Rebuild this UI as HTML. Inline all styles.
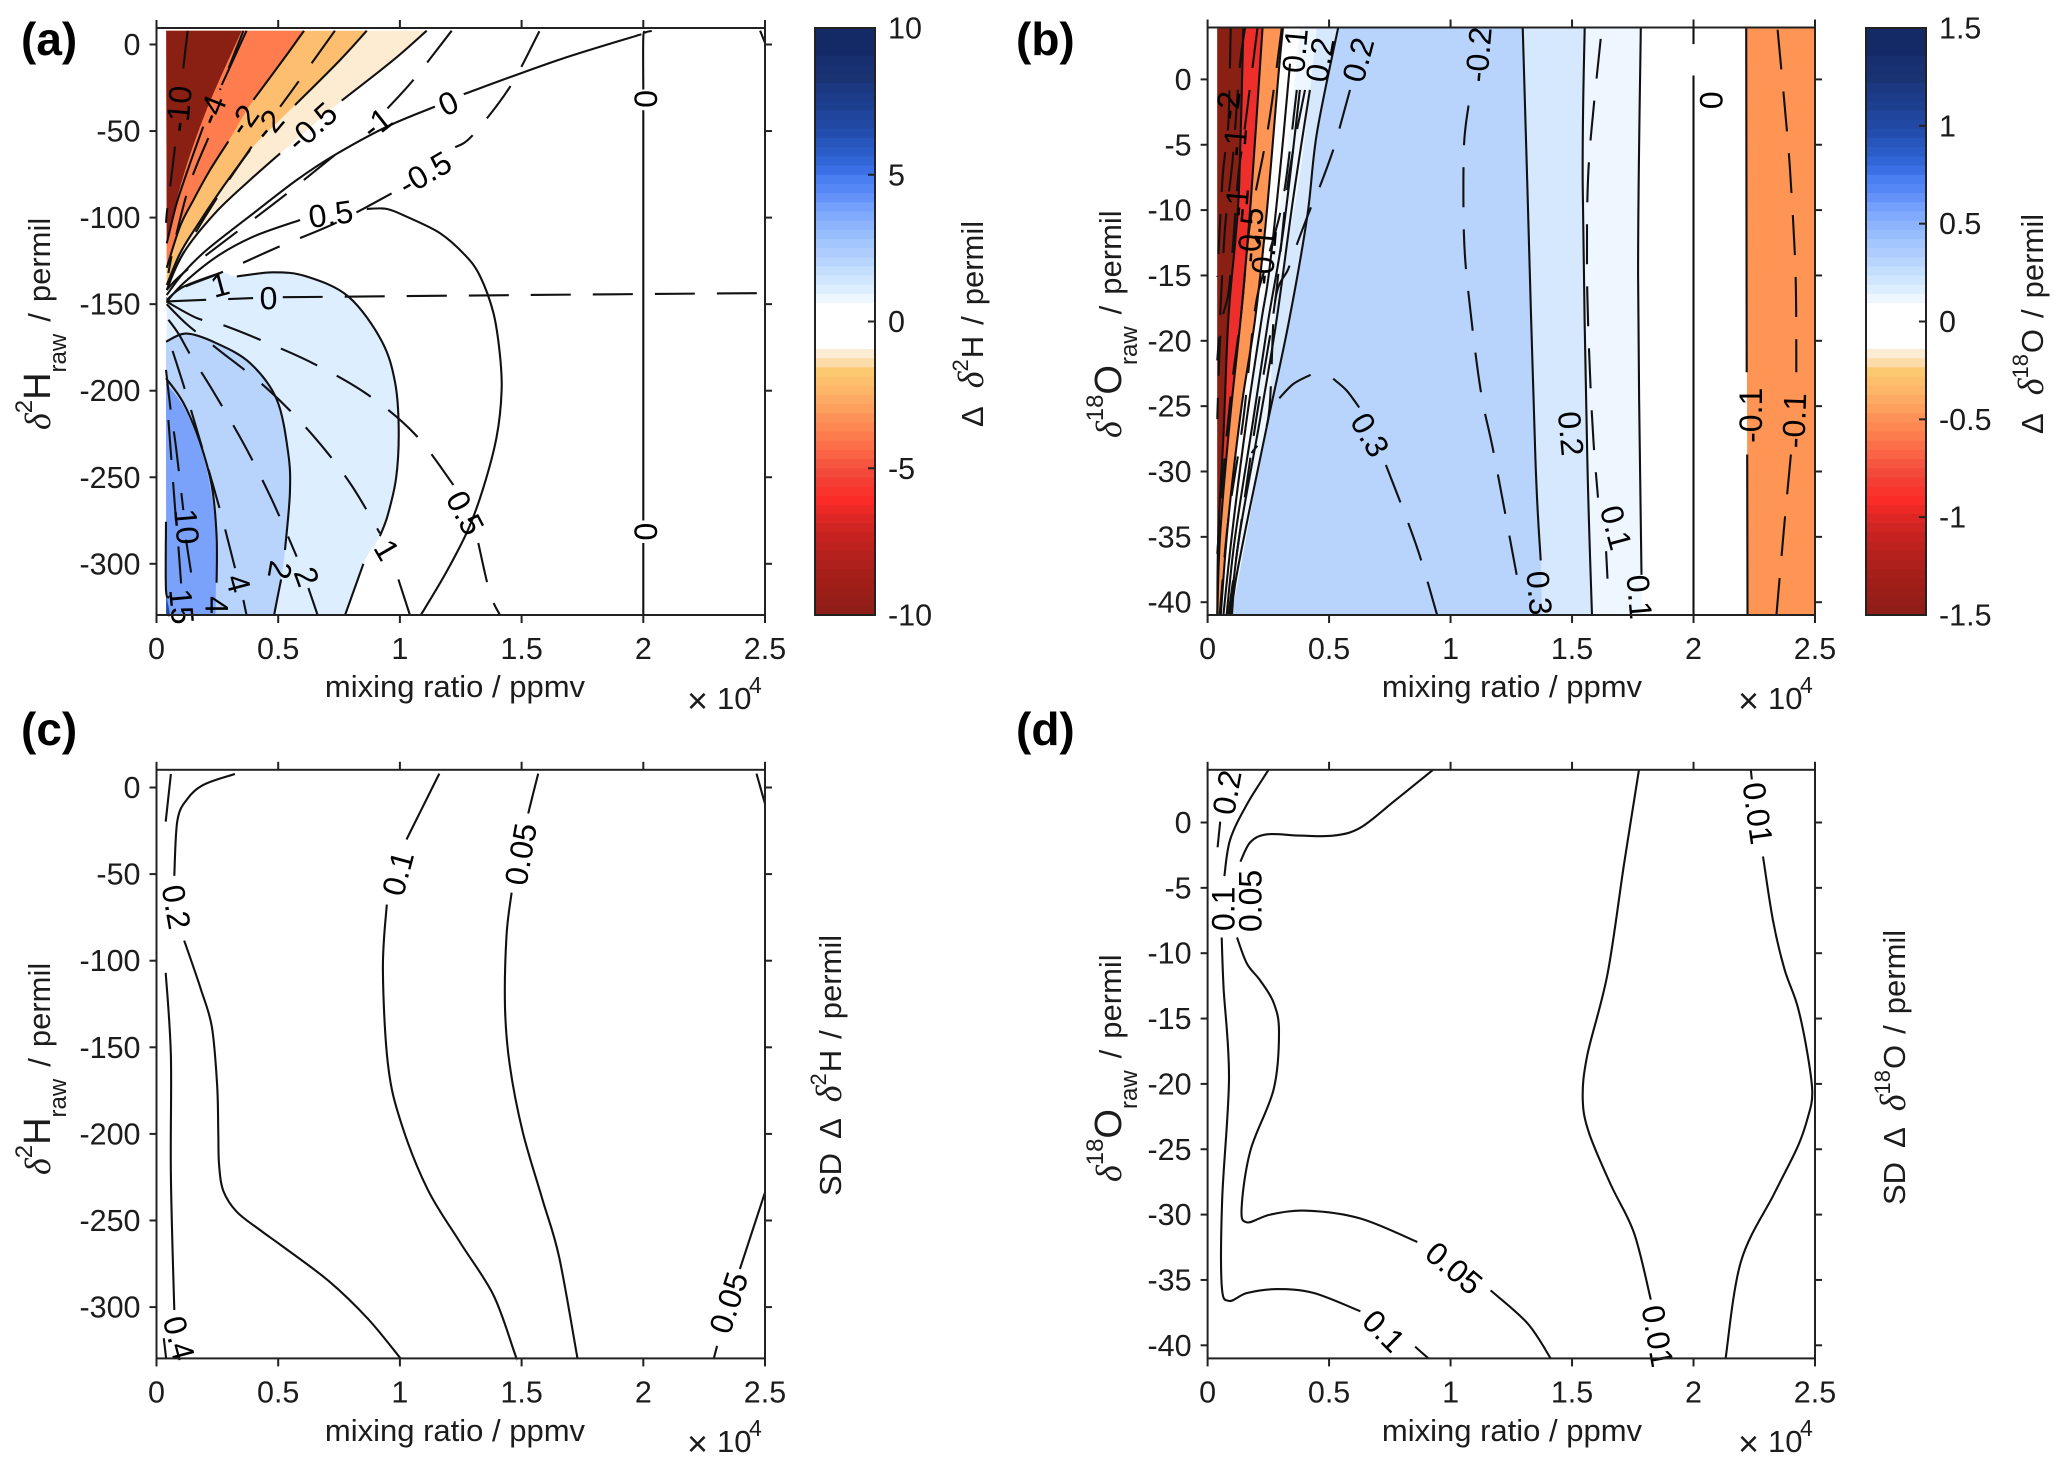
<!DOCTYPE html>
<html lang="en">
<head>
<meta charset="utf-8">
<title>Humidity-isotope contour panels</title>
<style>
html,body{margin:0;padding:0;background:#fff;}
svg{display:block;}
text{font-family:"Liberation Sans",sans-serif;fill:#1c1c1c;font-size:30.5px;}
.panel-letter{font-weight:bold;font-size:46px;fill:#000;}
.title{font-size:31px;}
.sym{font-family:"Liberation Serif",serif;font-style:italic;font-size:36px;}
.contour-text{font-size:32px;fill:#000;}
</style>
</head>
<body>
<svg id="figure" xmlns="http://www.w3.org/2000/svg" width="2067" height="1471" viewBox="0 0 2067 1471">
  <rect x="0" y="0" width="2067" height="1471" fill="#fff"/>
  <g id="panel-a"></g>
  <g id="panel-b"></g>
  <g id="panel-c"></g>
  <g id="panel-d"></g>
  <g id="colorbar-a"></g>
  <g id="colorbar-b"></g>

  <text class="panel-letter" x="21" y="55">(a)</text>
  <text class="panel-letter" x="1016" y="55">(b)</text>
  <text class="panel-letter" x="21" y="745">(c)</text>
  <text class="panel-letter" x="1016" y="745">(d)</text>

  <text class="title" x="455" y="697" text-anchor="middle">mixing ratio / ppmv</text>
  <text class="title" x="1512" y="697" text-anchor="middle">mixing ratio / ppmv</text>
  <text class="title" x="455" y="1441" text-anchor="middle">mixing ratio / ppmv</text>
  <text class="title" x="1512" y="1441" text-anchor="middle">mixing ratio / ppmv</text>

  <text x="687" y="713" font-size="36"><tspan font-size="36">×</tspan><tspan x="717" dy="-4" font-size="31">10</tspan><tspan x="749" dy="-16" font-size="23">4</tspan></text>
  <text x="1738" y="713"><tspan font-size="36">×</tspan><tspan x="1768" dy="-4" font-size="31">10</tspan><tspan x="1800" dy="-16" font-size="23">4</tspan></text>
  <text x="687" y="1456"><tspan font-size="36">×</tspan><tspan x="717" dy="-4" font-size="31">10</tspan><tspan x="749" dy="-16" font-size="23">4</tspan></text>
  <text x="1738" y="1456"><tspan font-size="36">×</tspan><tspan x="1768" dy="-4" font-size="31">10</tspan><tspan x="1800" dy="-16" font-size="23">4</tspan></text>

  <text class="title" transform="translate(50,430) rotate(-90)"><tspan class="sym">δ</tspan><tspan dy="-18" font-size="24">2</tspan><tspan dy="18" font-size="38">H</tspan><tspan dy="16" font-size="24">raw</tspan><tspan dy="-16" dx="12">/</tspan><tspan dx="11">permil</tspan></text>
  <text class="title" transform="translate(1121,438) rotate(-90)"><tspan class="sym">δ</tspan><tspan dy="-18" font-size="24">18</tspan><tspan dy="18" font-size="38">O</tspan><tspan dy="16" font-size="24">raw</tspan><tspan dy="-16" dx="12">/</tspan><tspan dx="11">permil</tspan></text>
  <text class="title" transform="translate(50,1175) rotate(-90)"><tspan class="sym">δ</tspan><tspan dy="-18" font-size="24">2</tspan><tspan dy="18" font-size="38">H</tspan><tspan dy="16" font-size="24">raw</tspan><tspan dy="-16" dx="12">/</tspan><tspan dx="11">permil</tspan></text>
  <text class="title" transform="translate(1121,1182) rotate(-90)"><tspan class="sym">δ</tspan><tspan dy="-18" font-size="24">18</tspan><tspan dy="18" font-size="38">O</tspan><tspan dy="16" font-size="24">raw</tspan><tspan dy="-16" dx="12">/</tspan><tspan dx="11">permil</tspan></text>

  <text class="title" transform="translate(983,427) rotate(-90)">Δ<tspan class="sym" dx="18">δ</tspan><tspan dy="-15" font-size="22">2</tspan><tspan dy="15" dx="1">H</tspan><tspan dx="11">/</tspan><tspan dx="11">permil</tspan></text>
  <text class="title" transform="translate(2043,434) rotate(-90)">Δ<tspan class="sym" dx="18">δ</tspan><tspan dy="-15" font-size="22">18</tspan><tspan dy="15" dx="1">O</tspan><tspan dx="11">/</tspan><tspan dx="11">permil</tspan></text>
  <text class="title" transform="translate(841,1196) rotate(-90)">SD<tspan dx="14">Δ</tspan><tspan class="sym" dx="16">δ</tspan><tspan dy="-15" font-size="22">2</tspan><tspan dy="15" dx="1">H</tspan><tspan dx="11">/</tspan><tspan dx="11">permil</tspan></text>
  <text class="title" transform="translate(1905,1205) rotate(-90)">SD<tspan dx="14">Δ</tspan><tspan class="sym" dx="16">δ</tspan><tspan dy="-15" font-size="22">18</tspan><tspan dy="15" dx="1">O</tspan><tspan dx="11">/</tspan><tspan dx="11">permil</tspan></text>
</svg>

<script>
// ---------- shared axis data ----------
const xTicks = [0, 0.5, 1, 1.5, 2, 2.5];
const xTickLabels = ['0', '0.5', '1', '1.5', '2', '2.5'];
const yTicksH = [0, -50, -100, -150, -200, -250, -300];
const yTickLabelsH = ['0', '-50', '-100', '-150', '-200', '-250', '-300'];
const yTicksO = [0, -5, -10, -15, -20, -25, -30, -35, -40];
const yTickLabelsO = ['0', '-5', '-10', '-15', '-20', '-25', '-30', '-35', '-40'];
const cbarTicksA = [10, 5, 0, -5, -10];
const cbarTickLabelsA = ['10', '5', '0', '-5', '-10'];
const cbarTicksB = [1.5, 1, 0.5, 0, -0.5, -1, -1.5];
const cbarTickLabelsB = ['1.5', '1', '0.5', '0', '-0.5', '-1', '-1.5'];
const colorbarColors = ['#132a66','#132a66','#132a66','#172f6e','#183172','#193373','#1b3880','#1c3b88','#1d3f90','#1f459c','#2149a4','#234eb0','#2756bc','#2b5dc8','#3166d6','#3a6fe6','#4a7ff2','#5588f6','#6592f8','#749ffa','#80aafb','#8cb3fc','#98bdfd','#a4c6fe','#aecdfe','#b8d5fe','#c4dffe','#d0e6ff','#dceeff','#eef7ff','#ffffff','#ffffff','#ffffff','#ffffff','#ffffff','#fdecd4','#fddcaa','#fcc870','#fdbf6c','#fdb668','#fdab64','#fda05e','#fd9258','#fd8852','#fd7c4d','#fc7049','#fa6445','#f65640','#f2493a','#f43e33','#f9342c','#fb2b28','#ed2926','#dc2724','#d02522','#c62320','#be221e','#b5211c','#ae201b','#a71f19','#a11e18','#9b1e18','#951e18','#901e18'];

// ---------- panel a: mean bias of d2H (x in 1e4 ppmv, y in permil) ----------
const aDarkRedEdge = [[0.35,8],[0.206,-37.8],[0.11,-76],[0.042,-113]];
const aBlueEdge = [[0.039,-195.7],[0.11,-209],[0.179,-232],[0.22,-255],[0.243,-284],[0.243,-329.6]];
const aDeepBlue = [[0.04,-318],[0.055,-329.6],[0.04,-329.6]];
const aSolidM4a = [[0.37,8],[0.343,-0.3],[0.305,-12],[0.268,-23.4]];
const aSolidM4b = [[0.192,-47.5],[0.138,-68.6],[0.083,-91.7],[0.042,-114.9]];
const aSolidM2a = [[0.606,8],[0.535,-6],[0.398,-32]];
const aSolidM2b = [[0.295,-56],[0.22,-72.5],[0.151,-90],[0.097,-105],[0.042,-129]];
const aSolidM1a = [[0.864,8],[0.754,-9],[0.569,-35]];
const aSolidM1b = [[0.384,-61],[0.275,-82],[0.165,-105],[0.097,-120.6],[0.042,-139]];
const aSolidM05a = [[1.11,8],[0.973,-9],[0.761,-32.4]];
const aSolidM05b = [[0.508,-62.9],[0.384,-78.3],[0.24,-97.5],[0.11,-120.6],[0.042,-141.8]];
const aSolid0a = [[1.992,5.9],[1.654,-8.8],[1.262,-28.7]];
const aSolid0b = [[1.144,-35.9],[0.946,-47.5],[0.733,-63.8],[0.576,-78.3],[0.398,-97.5],[0.206,-118.7],[0.11,-132],[0.042,-144.7]];
const aSolid05a = [[0.59,-101.4],[0.398,-111],[0.247,-122.6],[0.11,-138],[0.042,-148.6]];
const aSolid05b = [[0.864,-95],[0.945,-95],[1.028,-99.5],[1.165,-109],[1.27,-122],[1.33,-134],[1.384,-155],[1.41,-178],[1.418,-200],[1.397,-227],[1.343,-256],[1.281,-280],[1.19,-305],[1.086,-329.6]];
const aSolid1a = [[0.26,-132],[0.11,-140],[0.042,-147.6]];
const aSolid1b = [[0.33,-134],[0.48,-131.6],[0.617,-134],[0.789,-145.7],[0.924,-171],[0.98,-195],[0.995,-222],[0.985,-250],[0.95,-272],[0.918,-284]];
const aSolid1c = [[0.85,-300],[0.775,-329.6]];
const aSolid2a = [[0.039,-171.7],[0.124,-167],[0.247,-172.6],[0.384,-184],[0.494,-205],[0.541,-236],[0.548,-259],[0.528,-292]];
const aSolid2b = [[0.512,-309],[0.483,-329.6]];
const aSolid4 = [[0.039,-192.8],[0.11,-207],[0.179,-230],[0.227,-255],[0.247,-284],[0.247,-311]];
const aSolid10 = [[0.039,-275.7],[0.039,-315],[0.055,-319]];
const aSolidX2a = [[2.035,7.8],[2.01,7],[2,4],[2,-26]];
const aSolidX2b = [[2,-38],[2,-275]];
const aSolidX2c = [[2,-288],[2,-329.6]];
const aSolidCorner = [[2.48,8],[2.5,1]];
const aSolidLines = [aSolidM4a,aSolidM4b,aSolidM2a,aSolidM2b,aSolidM1a,aSolidM1b,aSolidM05a,aSolidM05b,aSolid0a,aSolid0b,aSolid05a,aSolid05b,aSolid1a,aSolid1b,aSolid1c,aSolid2a,aSolid2b,aSolid4,aSolid10,aSolidX2a,aSolidX2b,aSolidX2c,aSolidCorner];
const aDashedLines = [
  [[0.128,8],[0.11,-13.8]],
  [[0.076,-59],[0.058,-80],[0.045,-93.7],[0.039,-103]],
  [[0.357,8],[0.261,-26.3]],
  [[0.213,-54],[0.138,-80],[0.076,-113],[0.049,-132]],
  [[0.733,8],[0.583,-21.5],[0.508,-36]],
  [[0.391,-59],[0.247,-89],[0.11,-120.6],[0.049,-138]],
  [[1.213,8],[1.055,-20.5],[0.949,-36.9]],
  [[0.733,-63.8],[0.528,-87],[0.323,-109],[0.11,-132],[0.042,-141.8]],
  [[1.573,7.7],[1.451,-24.7],[1.297,-52.7],[1.227,-59.4]],
  [[0.966,-86],[0.733,-103.3],[0.5,-117],[0.261,-132],[0.117,-140],[0.042,-146.6]],
  [[0.04,-148.4],[0.397,-146.5]],
  [[0.519,-146],[1.519,-144.7],[2.5,-143.6]],
  [[0.042,-148.6],[0.165,-158],[0.261,-161.5],[0.412,-169.8],[0.644,-184.2],[0.87,-202.5],[1.065,-225.6],[1.22,-254.5]],
  [[1.322,-288],[1.37,-317],[1.411,-329.6]],
  [[0.042,-150],[0.124,-161.5],[0.247,-175.5],[0.453,-198.6],[0.631,-224],[0.791,-252.5],[0.918,-282.4]],
  [[0.994,-309],[1.041,-329.6]],
  [[0.049,-159],[0.09,-167],[0.142,-180],[0.227,-199],[0.357,-230.4],[0.473,-262.6],[0.576,-295.9]],
  [[0.624,-314],[0.662,-329.6]],
  [[0.066,-177],[0.113,-197.7],[0.186,-232.3],[0.258,-267.4],[0.323,-302.6]],
  [[0.357,-320.9],[0.37,-329.6]],
  [[0.039,-188],[0.058,-211],[0.08,-232.7],[0.11,-269]],
  [[0.121,-286],[0.142,-305]],
  [[0.049,-217],[0.08,-275]],
  [[0.09,-290],[0.101,-311.3]]
];
const aLabels = [
  ['-10',0.092,-37.2,-85],['-4',0.227,-37.8,-68],['-2',0.357,-43.6,-55],['-2',0.46,-46.5,-50],
  ['-0.5',0.638,-47.5,-42],['-1',0.905,-45.5,-38],['0',1.199,-34,-25],['-0.5',1.103,-74.4,-30],
  ['0.5',0.716,-98,-8],['1',0.261,-139,-15],['0',0.46,-146.6,-2],['0',2.01,-31.4,90],['0',2.01,-281.4,90],
  ['0.5',1.268,-270.6,62],['1',0.946,-292,60],['2',0.507,-303.6,100],['2',0.617,-307.5,70],
  ['4',0.336,-311.3,75],['4',0.247,-323.8,90],['10',0.124,-278.5,85],['15',0.103,-324.7,85]
];

// ---------- panel b: mean bias of d18O ----------
const bDarkRedEdge = [[0.147,3.9],[0.13,-8],[0.113,-12.5],[0.085,-18.4],[0.065,-27.3],[0.044,-34.8],[0.04,-41]];
const bRedEdge = [[0.226,3.9],[0.179,-9],[0.14,-17.6],[0.092,-26],[0.051,-35],[0.04,-41]];
const bOrangeEdge = [[0.31,3.9],[0.291,0.2],[0.243,-10.3],[0.195,-18.4],[0.14,-25],[0.085,-33.7],[0.054,-41]];
const bWhiteEdge = [[0.38,3.9],[0.346,-2.3],[0.277,-12.5],[0.202,-19.2],[0.175,-27.3],[0.099,-38.8],[0.085,-41]];
const bPaleEdge = [[0.449,3.9],[0.38,-7.4],[0.284,-17.1],[0.243,-26],[0.099,-41]];
const bMain = [[0.538,4],[0.45,-4.1],[0.41,-10.5],[0.336,-18.4],[0.25,-26],[0.175,-32.7],[0.113,-38.6],[0.1,-41]];
const bSolid03 = [[1.297,4],[1.316,-8],[1.349,-29],[1.371,-36.8]];
const bSolid02 = [[1.552,4],[1.544,-8],[1.563,-29],[1.582,-41]];
const bSolid01 = [[1.783,4],[1.772,-15],[1.786,-37.9]];
const bOrangeRightEdgeA = [[2.217,4],[2.219,-22.4]];
const bOrangeRightEdgeB = [[2.221,-28.7],[2.222,-41]];
const bSolidLines = [bDarkRedEdge,bRedEdge,bOrangeEdge,
  [[0.339,1.2],[0.305,-5.7],[0.254,-14.6],[0.222,-18.4],[0.161,-26],[0.099,-35],[0.065,-41]],
  [[0.38,-0.8],[0.312,-11.5],[0.25,-18.4],[0.188,-26],[0.113,-35],[0.078,-41]],
  [[0.421,-0.8],[0.353,-9],[0.284,-18.4],[0.216,-26],[0.13,-35],[0.092,-41]],
  bMain,bSolid03,bSolid02,bSolid01,bOrangeRightEdgeA,bOrangeRightEdgeB,
  [[2,4],[2,2.7]],[[2,0.3],[2,-41]]
];
const bDashedLines = [
  [[2.346,3.8],[2.382,-3.4],[2.401,-8],[2.42,-15],[2.423,-22.4]],
  [[2.401,-28.7],[2.374,-34],[2.341,-41]],
  [[1.618,3.1],[1.577,-4.5],[1.563,-9.4],[1.563,-16.4],[1.577,-23.8],[1.591,-28.4],[1.607,-32]],
  [[1.64,-36.1],[1.646,-38.2]],
  [[1.074,-2],[1.055,-5.2],[1.055,-11.8],[1.074,-16.4],[1.124,-23.8],[1.179,-28.7],[1.275,-38.2]],
  [[0.295,-24.4],[0.353,-23.3],[0.424,-22.6]],
  [[0.517,-22.9],[0.572,-23.8],[0.624,-25.1]],
  [[0.734,-29.5],[0.821,-33.7],[0.876,-36.6],[0.945,-41]],
  [[0.586,-0.8],[0.545,-3.6],[0.517,-5.4],[0.462,-8.2],[0.421,-10],[0.366,-12.7],[0.332,-14.5],[0.277,-17.1],[0.25,-25.9],[0.181,-28.6]],
  [[0.095,3.9],[0.085,-3.4],[0.062,-7.4],[0.04,-15.1]],
  [[0.154,3.9],[0.133,1.1],[0.103,-6.2],[0.072,-11.3],[0.048,-19.2],[0.04,-21.5]],
  [[0.205,3.9],[0.154,-3.6],[0.126,-7.4],[0.106,-12.3],[0.085,-16.4],[0.054,-19.2],[0.04,-26]],
  [[0.305,3.9],[0.25,-3.6],[0.175,-11],[0.14,-17.6],[0.099,-23.5],[0.065,-30],[0.04,-36.3]],
  [[0.367,-0.8],[0.312,-9],[0.243,-14],[0.195,-17.6],[0.147,-26],[0.085,-33.7],[0.05,-41]],
  [[0.401,-0.8],[0.332,-7.7],[0.277,-17.1],[0.2,-26],[0.13,-35],[0.085,-41]]
];
const bLabels = [
  ['-2',0.085,-2,-85],['-1',0.113,-4.8,-85],['-1',0.121,-9.4,-85],['-0.5',0.176,-11.9,-85],['-0.1',0.231,-13.6,-85],
  ['0.1',0.36,2.2,-85],['0.2',0.463,1.5,-80],['0.2',0.62,1.5,-75],['-0.2',1.115,1.9,-85],['0.3',0.668,-27.2,60],
  ['0.2',1.495,-27.1,85],['0.1',1.681,-34.3,75],['0.3',1.365,-39.3,85],['0.1',1.777,-39.6,85],['0',2.071,-1.6,90],
  ['-0.1',2.236,-25.7,-90],['-0.1',2.415,-26.1,-88]
];

// ---------- panel c: SD of d2H bias ----------
const cSolidLines = [
  [[2.465,8],[2.5,-9.4]],
  [[2.5,-233.8],[2.397,-278]],
  [[2.303,-322.4],[2.289,-330]],
  [[1.568,8],[1.527,-15]],
  [[1.459,-60.7],[1.438,-85.6],[1.432,-127],[1.451,-160],[1.505,-199],[1.586,-238],[1.654,-271],[1.73,-330]],
  [[1.162,8],[1.027,-30]],
  [[0.946,-67.6],[0.93,-105],[0.951,-160],[1.005,-193.6],[1.114,-232],[1.249,-263],[1.384,-293],[1.47,-326],[1.478,-330]],
  [[0.322,7.8],[0.195,1.7],[0.127,-6.6],[0.086,-19],[0.073,-51]],
  [[0.114,-88.4],[0.181,-116],[0.227,-138],[0.249,-171.5],[0.254,-200],[0.257,-218],[0.275,-233],[0.33,-245],[0.43,-256],[0.519,-265],[0.708,-285],[0.87,-307],[1.005,-330]],
  [[0.038,-107],[0.059,-155],[0.059,-224],[0.073,-301.7]],
  [[0.03,-318],[0.04,-330]],
  [[0.059,7.8],[0.038,-19.7]]
];
const cLabels = [['0.05',2.351,-297.5,-72],['0.05',1.497,-38.5,-80],['0.1',0.992,-49.6,-75],['0.2',0.081,-69,80],['0.4',0.092,-318,75]];

// ---------- panel d: SD of d18O bias ----------
const dSolidLines = [
  [[0.052,0.07],[0.041,-1.9]],
  [[0.25,4],[0.162,1.4],[0.093,-1.3],[0.069,-4.1]],
  [[0.058,-8.8],[0.066,-12.7],[0.088,-19.6],[0.06,-28.8],[0.058,-35.4],[0.088,-36.6],[0.162,-36],[0.286,-35.7],[0.437,-36],[0.629,-37.4]],
  [[0.854,-40.1],[0.909,-41]],
  [[0.926,4],[0.766,1.6],[0.629,-0.4],[0.519,-1],[0.382,-1],[0.245,-0.9],[0.176,-1.5],[0.135,-3]],
  [[0.121,-8.8],[0.162,-10.8],[0.217,-12.1],[0.272,-13.8],[0.294,-16],[0.272,-20.4],[0.176,-25.1],[0.14,-29.5],[0.162,-30.6],[0.258,-30],[0.409,-29.7],[0.629,-30.3],[0.863,-32.1]],
  [[1.165,-35.8],[1.316,-38.3],[1.412,-41]],
  [[1.775,4],[1.714,-3.2],[1.646,-11.6],[1.563,-17.8],[1.544,-21.1],[1.569,-23.7],[1.659,-27.7],[1.755,-31.4],[1.824,-36.5]],
  [[2.236,4],[2.24,3.3]],
  [[2.286,-2.6],[2.327,-7.5],[2.374,-11.2],[2.429,-14.1],[2.47,-17.8],[2.489,-20.7],[2.47,-22.6],[2.429,-24.8],[2.332,-28.4],[2.195,-33.6],[2.132,-41]]
];
const dLabels = [['0.2',0.08,2.3,-80],['0.1',0.066,-6.6,-90],['0.1',0.725,-38.9,45],['0.05',0.176,-6,-90],['0.05',1.014,-34.1,40],['0.01',1.852,-39.3,80],['0.01',2.264,0.7,82]];

// ---------- rendering ----------
const NS = 'http://www.w3.org/2000/svg';
const geo = {
  a: {l:156.5, r:765, t:28, b:615, y0:44.5, k:1.731},
  b: {l:1207.6, r:1815, t:27.5, b:615, y0:79.4, k:13.07},
  c: {l:156.5, r:765, t:769.8, b:1358.4, y0:787.5, k:1.732},
  d: {l:1207.6, r:1815, t:769.8, b:1358.4, y0:822.5, k:13.07}
};
function mk(tag, attrs, parent) {
  const el = document.createElementNS(NS, tag);
  for (const k in attrs) el.setAttribute(k, attrs[k]);
  parent.appendChild(el);
  return el;
}
function axisFns(g) {
  return { X: v => g.l + v / 2.5 * (g.r - g.l), Y: v => g.y0 - g.k * v };
}
function spline(pts) {
  let d = '';
  for (let i = 0; i < pts.length - 1; i++) {
    const p0 = pts[Math.max(i - 1, 0)], p1 = pts[i], p2 = pts[i + 1], p3 = pts[Math.min(i + 2, pts.length - 1)];
    const c1x = p1[0] + (p2[0] - p0[0]) / 6, c1y = p1[1] + (p2[1] - p0[1]) / 6;
    const c2x = p2[0] - (p3[0] - p1[0]) / 6, c2y = p2[1] - (p3[1] - p1[1]) / 6;
    d += 'C' + c1x.toFixed(1) + ' ' + c1y.toFixed(1) + ' ' + c2x.toFixed(1) + ' ' + c2y.toFixed(1) + ' ' + p2[0].toFixed(1) + ' ' + p2[1].toFixed(1);
  }
  return d;
}
function toPx(arr, ax) { return arr.map(p => [ax.X(p[0]), ax.Y(p[1])]); }
function linePath(arr, ax) {
  const pts = toPx(arr, ax);
  return 'M' + pts[0][0].toFixed(1) + ' ' + pts[0][1].toFixed(1) + spline(pts);
}
function fillBand(parent, ax, boundary, corners, color) {
  let d = linePath(boundary, ax);
  toPx(corners, ax).forEach(p => { d += 'L' + p[0].toFixed(1) + ' ' + p[1].toFixed(1); });
  const el = mk('path', {d: d + 'Z', fill: color, stroke: 'none'}, parent);
  
  
}
function drawLines(parent, ax, lines, dashed) {
  lines.forEach(line => {
    const attrs = {d: linePath(line, ax), fill: 'none', stroke: '#111', 'stroke-width': 2.1};
    if (dashed) attrs['stroke-dasharray'] = '40 22';
    const el = mk('path', attrs, parent);
    
    
  });
}
function drawLabels(parent, ax, rows) {
  rows.forEach(r => {
    const cx = ax.X(r[1]), cy = ax.Y(r[2]);
    const el = mk('text', {x: cx, y: cy, class: 'contour-text', 'text-anchor': 'middle', 'dominant-baseline': 'central', transform: 'rotate(' + r[3] + ' ' + cx + ' ' + cy + ')'}, parent);
    
    
    el.textContent = r[0];
  });
}
function drawAxes(parent, g, ax, yTicks, yLabels) {
  const stroke = {stroke: '#222', 'stroke-width': 2};
  const box = mk('rect', Object.assign({x: g.l, y: g.t, width: g.r - g.l, height: g.b - g.t, fill: 'none'}, stroke), parent);
  
  
  xTicks.forEach((v, i) => {
    const x = ax.X(v);
    const t1 = mk('line', Object.assign({x1: x, x2: x, y1: g.b, y2: g.b + 8}, stroke), parent);
    
    
    const t2 = mk('line', Object.assign({x1: x, x2: x, y1: g.t, y2: g.t - 8}, stroke), parent);
    
    
    const lab = mk('text', {x: x, y: g.b + 44, 'text-anchor': 'middle'}, parent);
    
    
    lab.textContent = xTickLabels[i];
  });
  yTicks.forEach((v, i) => {
    const y = ax.Y(v);
    const t1 = mk('line', Object.assign({x1: g.l - 7, x2: g.l, y1: y, y2: y}, stroke), parent);
    
    
    const t2 = mk('line', Object.assign({x1: g.r, x2: g.r + 7, y1: y, y2: y}, stroke), parent);
    
    
    const lab = mk('text', {x: g.l - 16, y: y + 10.5, 'text-anchor': 'end'}, parent);
    
    
    lab.textContent = yLabels[i];
  });
}
function drawColorbar(parent, l, r, t, b, maxVal, ticks, labels, labelX) {
  const h = (b - t) / colorbarColors.length;
  colorbarColors.forEach((c, i) => {
    const band = mk('rect', {x: l, y: t + i * h, width: r - l, height: h + 0.6, fill: c}, parent);
    
    
  });
  const box = mk('rect', {x: l, y: t, width: r - l, height: b - t, fill: 'none', stroke: '#222', 'stroke-width': 2}, parent);
  
  
  const scale = v => t + (maxVal - v) / (2 * maxVal) * (b - t);
  ticks.forEach((v, i) => {
    const y = scale(v);
    const tk = mk('line', {x1: r - 7, x2: r, y1: y, y2: y, stroke: '#222', 'stroke-width': 2}, parent);
    
    
    const lab = mk('text', {x: labelX, y: y + 10.5}, parent);
    
    
    lab.textContent = labels[i];
  });
}

// Panel a
(function () {
  const g = geo.a, ax = axisFns(g), el = document.getElementById('panel-a');
  const topLeft = [[0.04, 8]];
  fillBand(el, ax, aSolidM05a.concat(aSolidM05b), [[0.04, 8]], '#fdebd2');
  fillBand(el, ax, aSolidM1a.concat(aSolidM1b), topLeft, '#fdbf6f');
  fillBand(el, ax, aSolidM2a.concat(aSolidM2b), topLeft, '#ff7c4e');
  fillBand(el, ax, aDarkRedEdge, topLeft, '#8a1f14');
  const low = [[0.04, -329.6]];
  const lightEdge = aSolid1a.slice().reverse().concat(aSolid1b, aSolid1c);
  fillBand(el, ax, lightEdge, low, '#dceeff');
  fillBand(el, ax, aSolid2a.concat(aSolid2b), low, '#b8d4fd');
  fillBand(el, ax, aBlueEdge, low, '#7aa2fb');
  fillBand(el, ax, aDeepBlue, low, '#1f4aa8');
  drawLines(el, ax, aSolidLines, false);
  drawLines(el, ax, aDashedLines, true);
  drawLabels(el, ax, aLabels);
  drawAxes(el, g, ax, yTicksH, yTickLabelsH);
})();

// Panel b
(function () {
  const g = geo.b, ax = axisFns(g), el = document.getElementById('panel-b');
  const left = [[0.04, -41], [0.04, 4]];
  fillBand(el, ax, [[2.217,4],[2.222,-41]], [[2.5,-41],[2.5,4]], '#fe9555');
  fillBand(el, ax, bSolid01.concat([[1.788,-41]]), left, '#eef7ff');
  fillBand(el, ax, bSolid02, left, '#d5e8fd');
  fillBand(el, ax, bSolid03.concat([[1.376,-41]]), left, '#b8d4fd');
  fillBand(el, ax, bMain, left, '#d5e8fd');
  fillBand(el, ax, bPaleEdge, left, '#eef7ff');
  fillBand(el, ax, bWhiteEdge, left, '#ffffff');
  fillBand(el, ax, bOrangeEdge, left, '#fe9555');
  fillBand(el, ax, bRedEdge, left, '#ee2e2a');
  fillBand(el, ax, bDarkRedEdge, left, '#8a1f14');
  drawLines(el, ax, bSolidLines, false);
  drawLines(el, ax, bDashedLines, true);
  drawLabels(el, ax, bLabels);
  drawAxes(el, g, ax, yTicksO, yTickLabelsO);
})();

// Panel c
(function () {
  const g = geo.c, ax = axisFns(g), el = document.getElementById('panel-c');
  drawLines(el, ax, cSolidLines, false);
  drawLabels(el, ax, cLabels);
  drawAxes(el, g, ax, yTicksH, yTickLabelsH);
})();

// Panel d
(function () {
  const g = geo.d, ax = axisFns(g), el = document.getElementById('panel-d');
  drawLines(el, ax, dSolidLines, false);
  drawLabels(el, ax, dLabels);
  drawAxes(el, g, ax, yTicksO, yTickLabelsO);
})();

drawColorbar(document.getElementById('colorbar-a'), 815, 875, 28, 615, 10, cbarTicksA, cbarTickLabelsA, 888);
drawColorbar(document.getElementById('colorbar-b'), 1866, 1926, 28, 615, 1.5, cbarTicksB, cbarTickLabelsB, 1939);
</script>
</body>
</html>
